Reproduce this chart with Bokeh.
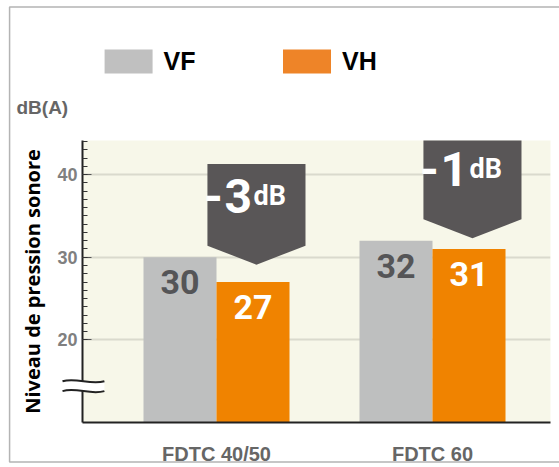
from bokeh.plotting import figure
from bokeh.models import (ColumnDataSource, FixedTicker, Range1d)
from bokeh.transform import dodge
from bokeh.core.properties import value
from bokeh.embed import file_html
from bokeh.resources import INLINE

# ---- data ----
categories = ["FDTC 40/50", "FDTC 60"]
series_names = ["VF", "VH"]
vf = [30, 32]
vh = [27, 31]
y_ticks = [20, 30, 40]
y_label = "Niveau de pression sonore"
unit_label = "dB(A)"
# callout box: top and tip level (dB scale)
callout_top = [41.3, 46.0]
callout_tip = [29.1, 32.3]

# ---- styles ----
C_VF = "#bebfbf"
C_VH = "#f08300"
C_VF_LEG = "#c0c0c0"
C_VH_LEG = "#ee8428"
C_CALLOUT = "#595657"
C_BG = "#f7f7e9"
BAR_W = 0.338
NUM_FONT = value("Roboto")
SANS = value("Liberation Sans")

idx = list(range(len(categories)))
diff = [b - a for a, b in zip(vf, vh)]
sign = ["-" if d < 0 else "+" for d in diff]
digits = [str(abs(d)) for d in diff]

src = ColumnDataSource(dict(idx=idx, vf=vf, vh=vh,
                            vf_txt=[str(v) for v in vf], vh_txt=[str(v) for v in vh]))

p = figure(width=559, height=467, output_backend="svg", toolbar_location=None,
           x_range=Range1d(-0.6204, 1.5463), y_range=Range1d(10, 44.13),
           min_border_left=82, min_border_right=9, min_border_top=140, min_border_bottom=42)
p.background_fill_color = C_BG
p.border_fill_color = "white"
p.outline_line_color = None

# bars
p.vbar(x=dodge("idx", -BAR_W / 2), top="vf", bottom=0, width=BAR_W, source=src,
       fill_color=C_VF, line_color=None)
p.vbar(x=dodge("idx", BAR_W / 2), top="vh", bottom=0, width=BAR_W, source=src,
       fill_color=C_VH, line_color=None)

# value labels
p.text(x=dodge("idx", -BAR_W / 2), y="vf", text="vf_txt", source=src, y_offset=25,
       text_font=NUM_FONT, text_font_style="bold", text_font_size="34px",
       text_color="#555557", text_align="center", text_baseline="alphabetic")
p.text(x=dodge("idx", BAR_W / 2), y="vh", text="vh_txt", source=src, y_offset=25,
       text_font=NUM_FONT, text_font_style="bold", text_font_size="34px",
       text_color="white", text_align="center", text_baseline="alphabetic")

# callouts
hw = 0.227
cxs = [i + BAR_W / 2 + 0.016 for i in idx]
xs, ys = [], []
for cx, t, tip in zip(cxs, callout_top, callout_tip):
    sh = tip + 2.3
    xs.append([cx - hw, cx + hw, cx + hw, cx, cx - hw])
    ys.append([t, t, sh, tip, sh])
p.patches(xs, ys, fill_color=C_CALLOUT, line_color=None)
csrc = ColumnDataSource(dict(cx=cxs, tip=callout_tip, sign=sign, dig=digits,
                             db=["dB"] * len(idx)))
p.text(x="cx", y="tip", text="sign", source=csrc, x_offset=-43, y_offset=-69,
       text_font=NUM_FONT, text_font_style="bold", text_font_size="48px",
       text_color="white", text_align="center", text_baseline="alphabetic")
p.text(x="cx", y="tip", text="dig", source=csrc, x_offset=-32, y_offset=-69,
       text_font=NUM_FONT, text_font_style="bold", text_font_size="48px",
       text_color="white", text_align="left", text_baseline="alphabetic")
p.text(x="cx", y="tip", text="db", source=csrc, x_offset=-3, y_offset=-69,
       text_font=NUM_FONT, text_font_style="bold", text_font_size="27px",
       text_color="white", text_align="left", text_baseline="alphabetic")

# axes
p.yaxis.ticker = FixedTicker(ticks=y_ticks, minor_ticks=list(range(y_ticks[0], 45)))
p.ygrid.ticker = FixedTicker(ticks=y_ticks)
p.ygrid.grid_line_color = "#dadacd"
p.ygrid.grid_line_width = 2
p.xgrid.visible = False
for ax in (p.xaxis[0], p.yaxis[0]):
    ax.axis_line_color = "#222222"
    ax.axis_line_width = 2
p.yaxis.major_tick_in = 9
p.yaxis.major_tick_out = 0
p.yaxis.minor_tick_in = 5
p.yaxis.minor_tick_out = 0
p.yaxis.major_tick_line_color = "#555555"
p.yaxis.minor_tick_line_color = "#333333"
p.yaxis.major_label_text_font = "Liberation Sans"
p.yaxis.major_label_text_font_style = "bold"
p.yaxis.major_label_text_font_size = "18px"
p.yaxis.major_label_text_color = "#808080"
p.yaxis.major_label_standoff = 5
p.yaxis.axis_label = y_label
p.yaxis.axis_label_text_font = "Open Sans"
p.yaxis.axis_label_text_font_style = "bold"
p.yaxis.axis_label_text_font_size = "20px"
p.yaxis.axis_label_text_color = "black"
p.yaxis.axis_label_standoff = 8

p.xaxis.ticker = FixedTicker(ticks=idx)
p.xaxis.major_label_overrides = {i: c for i, c in zip(idx, categories)}
p.xaxis.major_tick_in = 0
p.xaxis.major_tick_out = 0
p.xaxis.minor_tick_line_color = None
p.xaxis.major_label_text_font = "Liberation Sans"
p.xaxis.major_label_text_font_style = "bold"
p.xaxis.major_label_text_font_size = "20px"
p.xaxis.major_label_text_color = "#666666"
p.xaxis.major_label_standoff = 20

# unit label (drawn above the frame)
p.text(x=[-0.926], y=[48.1], text=[unit_label], text_font=SANS, text_font_style="bold",
       text_font_size="19px", text_color="#666666", text_baseline="middle",
       text_align="left", level="overlay")

# legend (drawn above the frame)
leg_x = [-0.407, 0.419]
leg_y = [53.7, 53.7]
p.rect(x=leg_x, y=leg_y, width=48, height=24, width_units="screen", height_units="screen",
       fill_color=[C_VF_LEG, C_VH_LEG], line_color=None, level="overlay")
p.text(x=leg_x, y=leg_y, text=series_names, x_offset=35, text_font=SANS,
       text_font_style="bold", text_font_size="25px", text_color="black",
       text_baseline="middle", text_align="left", level="overlay")

# axis break symbol
bx0, bx1, byu, byl, amp = -0.713, -0.519, 15.0, 13.8, 0.5
p.quad(left=[bx0], right=[bx1], bottom=[byl], top=[byu], fill_color="white",
       line_color=None, level="overlay")
w = bx1 - bx0
p.bezier(x0=[bx0, bx0], y0=[byu, byl], x1=[bx1, bx1], y1=[byu, byl],
         cx0=[bx0 + w / 3] * 2, cy0=[byu + amp, byl + amp],
         cx1=[bx0 + 2 * w / 3] * 2, cy1=[byu - amp, byl - amp],
         line_color="#222222", line_width=2, level="overlay")

# outer frame of the picture
p.line(x=[1.62, -0.958, -0.958, 1.62], y=[60.3, 60.3, 5.21, 5.21],
       line_color="#b4b4b4", line_width=1.5, level="overlay")

open("out.html", "w").write(file_html(p, INLINE))
